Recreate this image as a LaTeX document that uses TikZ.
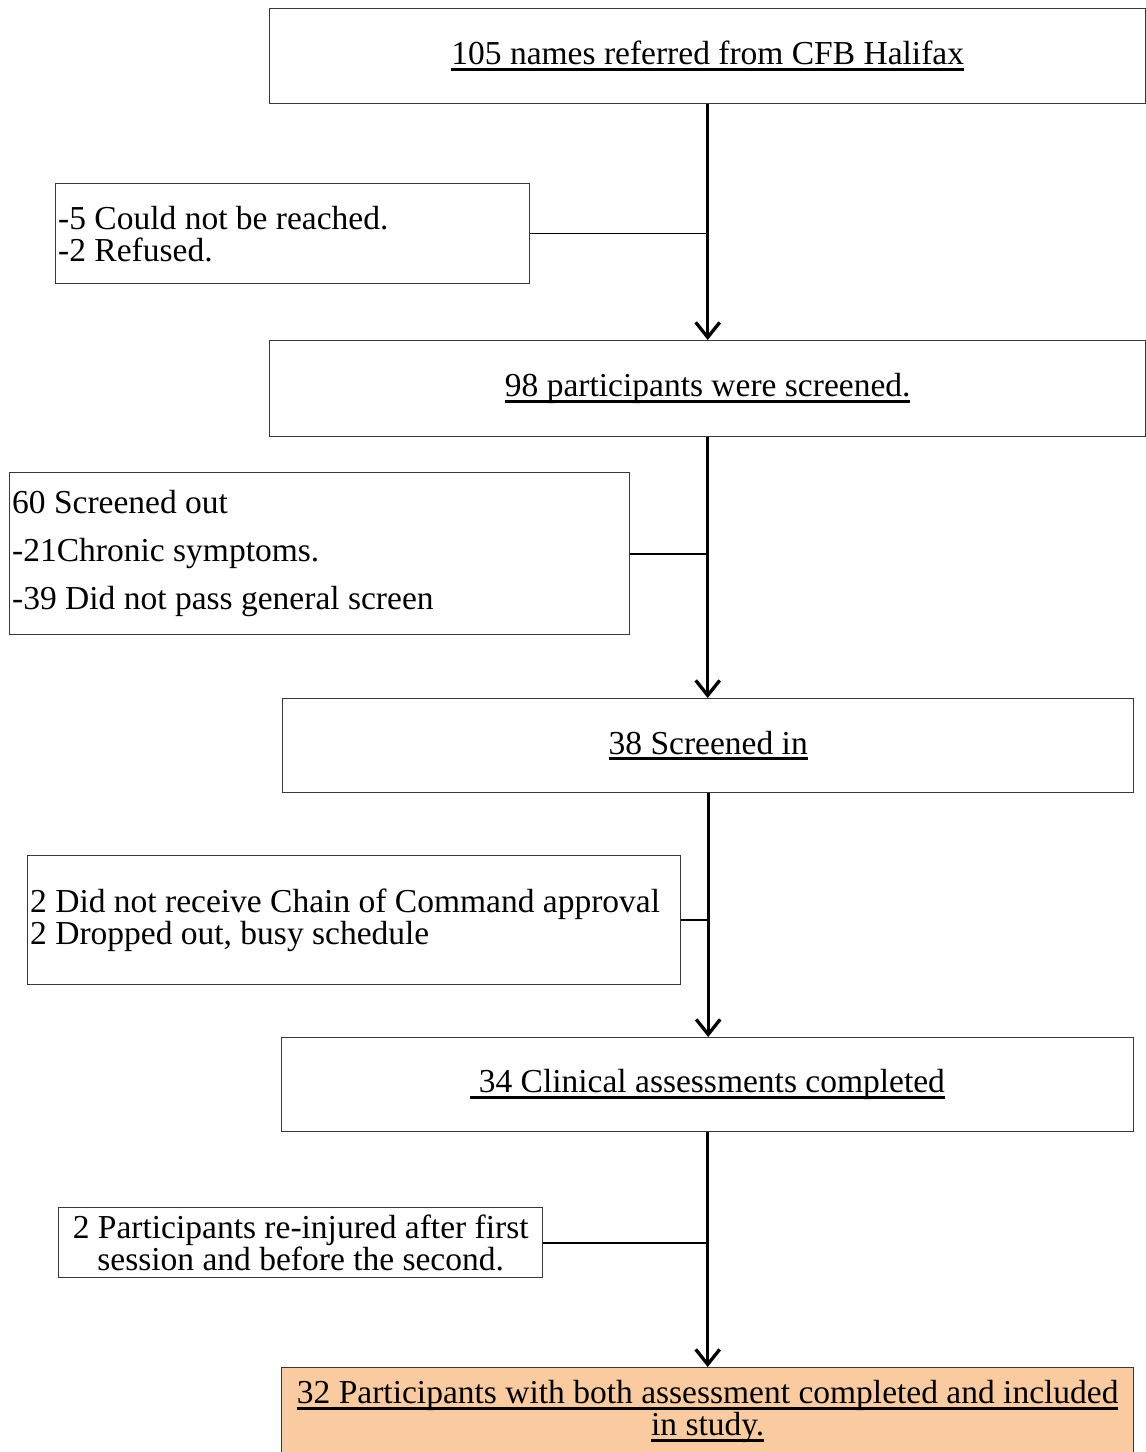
\documentclass[tikz,border=0pt]{standalone}
\usepackage{fontspec}
\setmainfont{Liberation Serif}
\usetikzlibrary{arrows.meta}
\definecolor{peach}{RGB}{250,203,160}
\definecolor{edge}{RGB}{55,55,55}
% thick underline under a single line of text
\newcommand\ulx[1]{\setbox0\hbox{#1}\rlap{\rule[-6pt]{\wd0}{3pt}}\box0}

\begin{document}
\begin{tikzpicture}[x=1pt,y=-1pt,
  box/.style={draw=edge, line width=1.4pt, anchor=north west, inner sep=0pt,
    font=\fontsize{33.5}{32}\selectfont},
  sidebox/.style={box, align=flush left, inner xsep=2.5pt},
  flow/.style={line width=3.3pt, -{Straight Barb[length=15pt,width=24pt,line width=3.3pt]}},
  side/.style={line width=2.4pt}]

\clip (0,0) rectangle (1146,1452);

% main stages
\node[box, minimum width=876pt, minimum height=95pt] (n1) at (269,8)
  {\ulx{105 names referred from CFB Halifax}};
\node[box, minimum width=876pt, minimum height=96pt] (n3) at (269,340)
  {\ulx{98 participants were screened.}};
\node[box, minimum width=851pt, minimum height=94pt] (n5) at (282,698)
  {\ulx{38 Screened in}};
\node[box, minimum width=852pt, minimum height=94pt] (n7) at (281,1037)
  {\ulx{\ 34 Clinical assessments completed}};
\node[box, fill=peach, minimum width=852pt, minimum height=88pt, align=center] (n9) at (281,1367)
  {\ulx{32 Participants with both assessment completed and included}\\\ulx{in study.}};

% exclusion boxes
\node[sidebox, text width=469pt, minimum height=100pt] (s1) at (55,183)
  {-5 Could not be reached.\\-2 Refused.};
\node[sidebox, text width=615pt, minimum height=162pt, font=\fontsize{33.5}{48}\selectfont] (s2) at (9,472)
  {60 Screened out\\-21Chronic symptoms.\\-39 Did not pass general screen};
\node[sidebox, text width=648pt, minimum height=129pt] (s3) at (27,855)
  {2 Did not receive Chain of Command approval\\2 Dropped out, busy schedule};
\node[box, align=center, inner xsep=2pt, minimum width=484pt, minimum height=70pt] (s4) at (58,1207)
  {2 Participants re-injured after first\\session and before the second.};

% flow arrows
\draw[flow] (n1.south) -- (n3.north);
\draw[flow] (n3.south) -- (n3.south |- n5.north);
\draw[flow] (n5.south) -- (n5.south |- n7.north);
\draw[flow] (n7.south) -- (n7.south |- n9.north);

% exclusion connectors
\draw[side, line width=1.4pt] (s1.east) -- (s1.east -| n1.south);
\draw[side] (s2.east) -- (s2.east -| n3.south);
\draw[side] (s3.east) -- (s3.east -| n5.south);
\draw[side] (s4.east) -- (s4.east -| n7.south);
\end{tikzpicture}
\end{document}
